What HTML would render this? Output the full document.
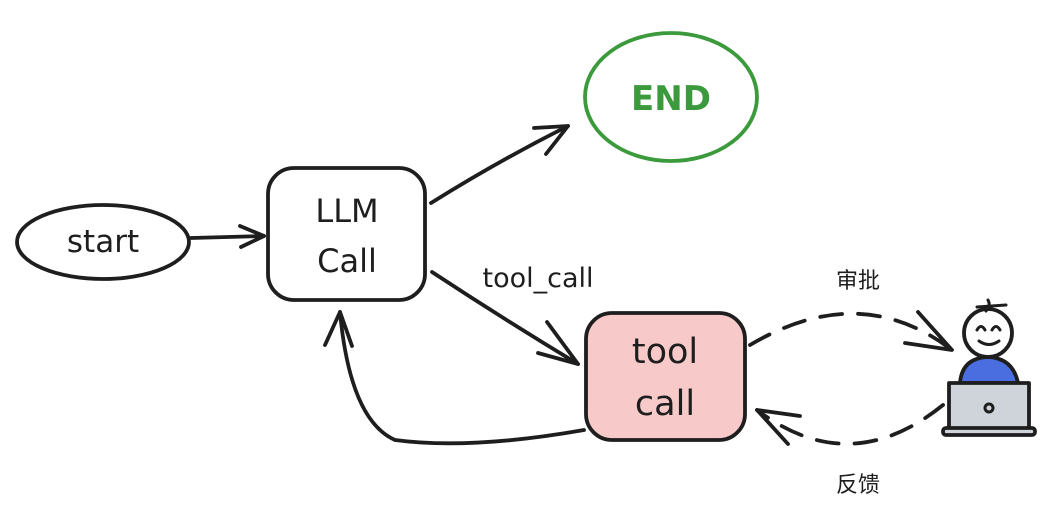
<!DOCTYPE html>
<html><head><meta charset="utf-8"><style>
html,body{margin:0;padding:0;background:#fff;}
svg text{font-family:"DejaVu Sans","Liberation Sans","Noto Sans CJK SC",sans-serif;}
</style></head><body>
<svg width="1054" height="516" viewBox="0 0 1054 516" xmlns="http://www.w3.org/2000/svg">
<g fill="none" stroke="#1e1e1e" stroke-width="3.8" stroke-linecap="round" stroke-linejoin="round">
<ellipse cx="103" cy="242" rx="86" ry="37"/>
<rect x="268" y="168" width="157" height="132" rx="26"/>
<ellipse cx="671" cy="97" rx="86" ry="64" stroke="#3b9a3b"/>
<rect x="586" y="313" width="159" height="127" rx="26" fill="#f7c9c9"/>
<path d="M191 238 L264 236"/><path d="M240 226 L264 236 L241 247"/>
<path d="M431 203 Q500 160 568 126"/><path d="M534 128 L568 126 L546 154"/>
<path d="M432 272 Q505 320 578 364"/><path d="M547 322 L578 364 L538 353"/>
<path d="M584 430 Q470 450 395 440 Q350 420 340 312"/><path d="M325 345 L340 312 L352 346"/>
<path d="M750 345 Q860 280 952 350" stroke-dasharray="22 16"/><path d="M918 312 L952 350 L905 343"/>
<path d="M943 405 Q850 480 757 410" stroke-dasharray="22 16"/><path d="M800 416 L757 410 L788 444"/>
<path d="M960 383 Q962 358 988 357 Q1013 358 1018 383 Z" fill="#4a6ee0"/>
<circle cx="988" cy="333" r="24" fill="#fff"/>
<path d="M977 330 Q981 323 985 330 M992 330 Q996 323 1000 330 M979 341 Q989 348 999 341" stroke-width="3"/>
<path d="M977 307 L1006 305 M988 300 Q991 305 986 311" stroke-width="3"/>
<rect x="949" y="383" width="80" height="46" fill="#ced4da"/>
<rect x="943" y="428" width="92" height="7" rx="3" fill="#ced4da"/>
<circle cx="989" cy="408" r="4" stroke-width="3"/>
</g>
<g fill="#1e1e1e" font-size="31" text-anchor="middle">
<text x="103" y="252">start</text>
<text x="347" y="222" font-size="32">LLM</text>
<text x="347" y="272" font-size="32">Call</text>
<text x="665" y="363" font-size="35">tool</text>
<text x="665" y="415" font-size="35">call</text>
<text x="671" y="110" fill="#3b9a3b" font-size="34" font-weight="bold">END</text>
<text x="538" y="287" font-size="27">tool_call</text>
<text x="858" y="288" font-size="22">审批</text>
<text x="858" y="492" font-size="22">反馈</text>
</g>
</svg>
</body></html>
